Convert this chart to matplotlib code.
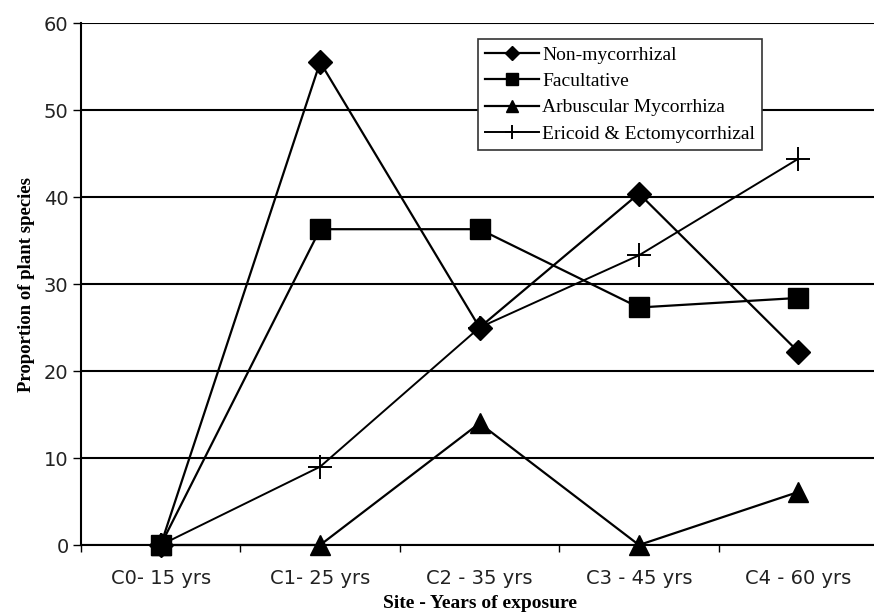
import numpy as np
import matplotlib.pyplot as plt

sites = ['C0- 15 yrs', 'C1- 25 yrs', 'C2 - 35 yrs', 'C3 - 45 yrs', 'C4 - 60 yrs']
non_myc = [0, 55.5, 25, 40.4, 22.2]
facultative = [0, 36.3, 36.3, 27.3, 28.4]
arbuscular = [0, 0, 14, 0, 6.1]
ericoid = [0, 9, 25, 33.3, 44.4]

fig = plt.figure(figsize=(8.74, 6.15), dpi=100)
ax = fig.add_axes([0.0927, 0.1138, 0.912, 0.8488])

x = np.arange(len(sites))
ax.plot(x, non_myc, color='black', lw=1.6, marker='D', ms=12, label='Non-mycorrhizal',
        clip_on=False, zorder=3)
ax.plot(x, arbuscular, color='black', lw=1.6, marker='^', ms=15, label='Arbuscular Mycorrhiza',
        clip_on=False, zorder=3)
ax.plot(x, ericoid, color='black', lw=1.4, marker='+', ms=17, mew=1.4,
        label='Ericoid & Ectomycorrhizal', clip_on=False, zorder=3)
ax.plot(x, facultative, color='black', lw=1.6, marker='s', ms=15, label='Facultative',
        clip_on=False, zorder=4)

ax.set_xlim(-0.5, 4.5)
ax.set_ylim(0, 60)
ax.set_yticks(range(0, 61, 10))
ax.yaxis.grid(True, color='black', lw=1.5)
ax.set_axisbelow(True)

ax.set_xticks(x)
ax.set_xticklabels(sites, fontsize=14, color='#222222')
ax.set_xticks(np.arange(-0.5, 4.6, 1), minor=True)
ax.tick_params(axis='x', which='major', length=0, pad=17)
ax.tick_params(axis='x', which='minor', length=5, direction='out', width=1)
ax.tick_params(axis='y', length=6, width=1, labelsize=14, labelcolor='#222222', pad=3)

for s in ['top', 'right']:
    ax.spines[s].set_visible(False)
ax.spines['left'].set_linewidth(1.5)
ax.spines['bottom'].set_linewidth(1.5)

ax.set_ylabel('Proportion of plant species', family='Liberation Serif',
              fontweight='bold', fontsize=13.5, labelpad=6)
ax.set_xlabel('Site - Years of exposure', family='Liberation Serif',
              fontweight='bold', fontsize=14, labelpad=5)

# legend order as in the reference
handles, labels = ax.get_legend_handles_labels()
order = ['Non-mycorrhizal', 'Facultative', 'Arbuscular Mycorrhiza', 'Ericoid & Ectomycorrhizal']
hmap = dict(zip(labels, handles))
leg = ax.legend([hmap[k] for k in order], order,
                loc='upper left', bbox_to_anchor=(0.547, 0.936),
                bbox_transform=fig.transFigure, frameon=True, fancybox=False,
                prop={'family': 'Liberation Serif', 'size': 14},
                handlelength=2.8, labelspacing=0.45, borderpad=0.35,
                handletextpad=0.15, markerscale=0.6, borderaxespad=0)
leg.get_frame().set_edgecolor('#333333')
leg.get_frame().set_linewidth(1.2)
leg.get_frame().set_alpha(1)
leg.set_zorder(5)

fig.savefig('out.png', dpi=100)
